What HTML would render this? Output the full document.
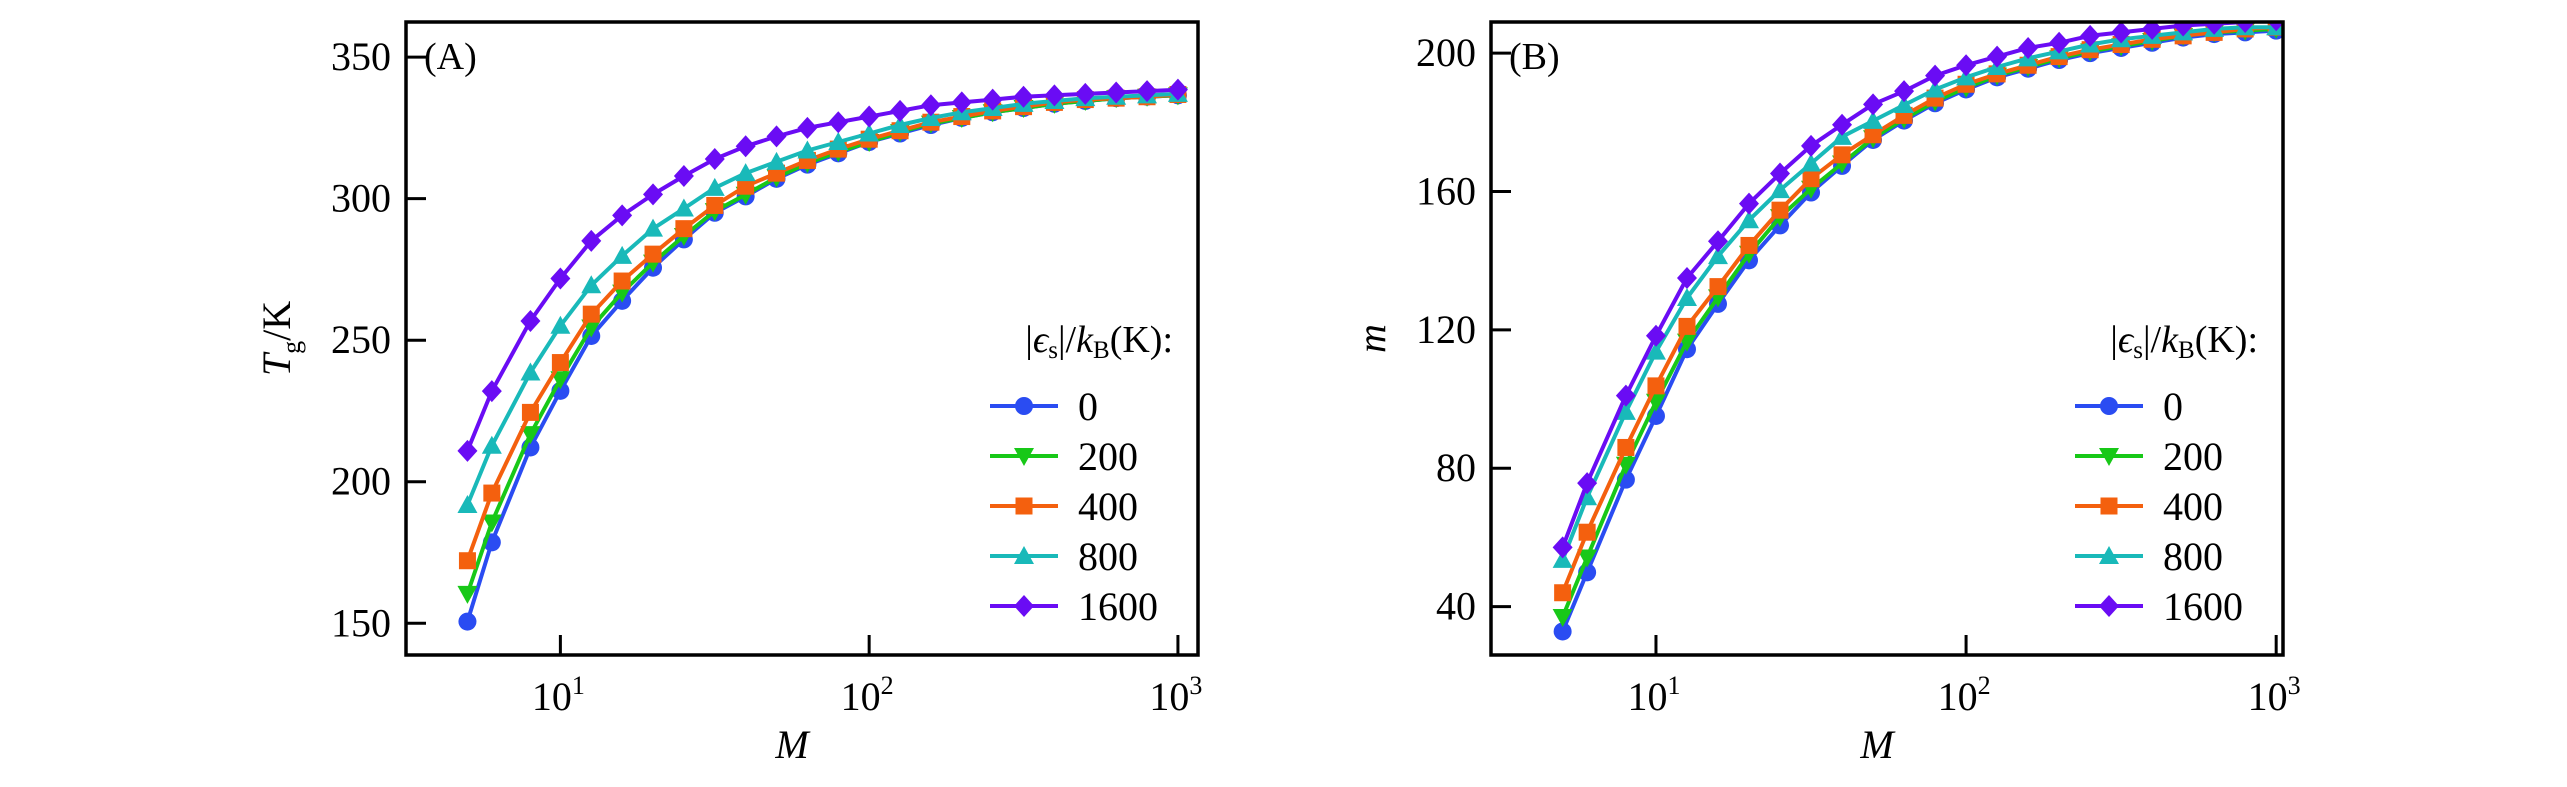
<!DOCTYPE html>
<html><head><meta charset="utf-8">
<style>
html,body{margin:0;padding:0;background:#fff;}
svg{display:block;font-family:"Liberation Serif",serif;}
</style></head>
<body>
<svg id="fig" width="2567" height="787" viewBox="0 0 2567 787" xmlns="http://www.w3.org/2000/svg"></svg>
<script>
const logM = [0.699,0.778,0.903,1.0,1.1,1.2,1.3,1.4,1.5,1.6,1.7,1.8,1.9,2.0,2.1,2.2,2.3,2.4,2.5,2.6,2.7,2.8,2.9,3.0];
const seriesLabels = ["0","200","400","800","1600"];
const tgBlue   = [150.6,178.6,212.1,232.1,251.5,263.9,275.6,285.6,295,300.8,307,312,316,320,323,326,328.5,330.5,332,333.5,334.5,335.5,336,336.5];
const tgGreen  = [160.4,185.6,216.8,236.2,254.5,266.8,277.4,286.8,295.6,301.4,307.5,312.5,316.5,320,323.5,326.5,328.5,330.5,332,333.5,334.5,335.5,336,336.5];
const tgOrange = [172.1,196,224.5,242.1,259.2,270.9,280.4,289.4,297.6,304.4,309,313.5,317.5,321,324,327,329,331,332.5,334,335,335.5,336,336.8];
const tgCyan   = [191.8,212.7,238.6,255.1,269.4,279.8,289.4,296.5,303.8,309,313,317,320,323,326,328.5,330.5,332,333.5,334.5,335.5,336,336.5,337];
const tgPurple = [210.9,232,256.8,271.8,285.1,294.1,301.5,308,314,318.5,322,325,327,329,331,333,334,335,336,336.5,337,337.5,338,338.5];
const mBlue   = [32.8,49.9,76.7,95.1,114.4,127.5,140.1,150.2,159.7,167.4,174.9,180.5,185.5,189.5,193,195.5,198,200,201.5,203,204.5,205.5,206,206.5];
const mGreen  = [37,54.2,81,99.2,116.6,129.4,142,152.6,160.8,168.1,175.4,181,186,190,193.5,196,198.5,200.5,202,203.5,205,206,206.5,207];
const mOrange = [44,61.5,86,103.8,121,132.5,144.4,154.6,163.7,170.6,176.4,182,187,191,194,196.5,199,201,202.5,204,205,206,207,207.5];
const mCyan   = [53.5,71.6,96.3,113.7,129.2,141.3,151.7,160.4,168.1,175.8,180.4,185,189.5,193,196,198.5,200.5,202.5,204,205,206,207,207.5,207.5];
const mPurple = [57.1,75.7,101,118.3,135,145.6,156.5,165.2,173.2,179.3,185.2,189,193.5,196.5,199,201.5,203,205,206,207,208,208.5,209,209.5];
const tgTicks = [150,200,250,300,350];
const mTicks = [40,80,120,160,200];
const xTickExp = [1,2,3];

const NS="http://www.w3.org/2000/svg";
const svg=document.getElementById('fig');
const colors=["#2a4cf2","#18c818","#f4600e","#19b9b9","#6a0cf4"];
const markers=["circle","tridown","square","triup","diamond"];
function el(tag,attrs,parent){const e=document.createElementNS(NS,tag);for(const k in attrs)e.setAttribute(k,attrs[k]);(parent||svg).appendChild(e);return e;}
function marker(g,type,x,y,c){
  let e;
  if(type==="circle"){e=el('circle',{cx:x,cy:y,r:9,fill:c},g);}
  else if(type==="square"){e=el('rect',{x:x-8.5,y:y-8.5,width:17,height:17,fill:c},g);}
  else if(type==="tridown"){e=el('polygon',{points:`${x-10},${y-8} ${x+10},${y-8} ${x},${y+10}`,fill:c},g);}
  else if(type==="triup"){e=el('polygon',{points:`${x-10},${y+8} ${x+10},${y+8} ${x},${y-10}`,fill:c},g);}
  else {e=el('polygon',{points:`${x},${y-11} ${x+10},${y} ${x},${y+11} ${x-10},${y}`,fill:c},g);}
  
  
  return e;
}
function panel(cfg){
  const {L,R,T,B,xmin,xmax,ymin,ymax,yticks,series,letter,ylab,name,clipId}=cfg;
  const g=el('g',{});
  
  
  const sx=v=>L+(v-xmin)/(xmax-xmin)*(R-L);
  const sy=v=>B-(v-ymin)/(ymax-ymin)*(B-T);
  const defs=el('defs',{},g);
  const cp=el('clipPath',{id:clipId},defs);
  el('rect',{x:L,y:T,width:R-L,height:B-T},cp);
  const plot=el('g',{'clip-path':`url(#${clipId})`},g);
  
  
  series.forEach((s,i)=>{
    const sg=el('g',{},plot);
    
    
    const pts=logM.map((lx,j)=>sx(lx).toFixed(1)+','+sy(s[j]).toFixed(1)).join(' ');
    const pl=el('polyline',{points:pts,fill:'none',stroke:colors[i],'stroke-width':4,'stroke-linejoin':'round'},sg);
    
    
    logM.forEach((lx,j)=>marker(sg,markers[i],sx(lx),sy(s[j]),colors[i]));
  });
  yticks.forEach(v=>{
    const y=sy(v);
    const t=el('line',{x1:L,x2:L+20,y1:y,y2:y,stroke:'#000','stroke-width':3},g);
    
    
    const tx=el('text',{x:L-15,y:y+13,'text-anchor':'end','font-size':40},g);
    tx.textContent=v;
    
    
  });
  xTickExp.forEach(e=>{
    const x=sx(e);
    const t=el('line',{x1:x,x2:x,y1:B,y2:B-20,stroke:'#000','stroke-width':3},g);
    
    
    const tx=el('text',{x:x-2,y:B+55,'text-anchor':'middle','font-size':40},g);
    
    
    const a=el('tspan',{},tx);a.textContent='10';
    const b=el('tspan',{dy:-16,'font-size':26},tx);b.textContent=e;
  });
  const fr=el('rect',{x:L,y:T,width:R-L,height:B-T,fill:'none',stroke:'#000','stroke-width':3.5},g);
  
  
  const pl=el('text',{x:L+18,y:T+47,'font-size':38},g);
  pl.textContent=letter;
  
  
  const xl=el('text',{x:(L+R)/2-10,y:B+103,'text-anchor':'middle','font-size':40,'font-style':'italic'},g);
  xl.textContent='M';
  
  
  const yl=el('text',{transform:`translate(${cfg.ylx},${(T+B)/2}) rotate(-90)`,'text-anchor':'middle','font-size':40},g);
  
  
  if(ylab==='Tg'){
    const a=el('tspan',{'font-style':'italic'},yl);a.textContent='T';
    const b=el('tspan',{dy:10,'font-size':26},yl);b.textContent='g';
    const c=el('tspan',{dy:-10},yl);c.textContent='/K';
  } else {
    const a=el('tspan',{'font-style':'italic'},yl);a.textContent='m';
  }
  const lg=el('g',{},g);
  
  
  const lt=el('text',{x:R-25,y:352,'text-anchor':'end','font-size':38},lg);
  
  
  const p1=el('tspan',{},lt);p1.textContent='|';
  const p2=el('tspan',{'font-style':'italic'},lt);p2.textContent='ϵ';
  const p3=el('tspan',{dy:6,'font-size':25},lt);p3.textContent='s';
  const p4=el('tspan',{dy:-6},lt);p4.textContent='|/';
  const p5=el('tspan',{'font-style':'italic'},lt);p5.textContent='k';
  const p6=el('tspan',{dy:6,'font-size':25},lt);p6.textContent='B';
  const p7=el('tspan',{dy:-6},lt);p7.textContent='(K):';
  seriesLabels.forEach((s,i)=>{
    const y=406+i*50;
    const lx=R-208;
    const eg=el('g',{},lg);
    
    
    el('line',{x1:lx,x2:lx+68,y1:y,y2:y,stroke:colors[i],'stroke-width':4},eg);
    marker(eg,markers[i],lx+34,y,colors[i]);
    const t=el('text',{x:lx+88,y:y+14,'font-size':40},eg);
    t.textContent=s;
  });
}
panel({L:406,R:1198,T:22,B:655,xmin:0.5,xmax:3.065,ymin:138.8,ymax:362.4,yticks:tgTicks,
  series:[tgBlue,tgGreen,tgOrange,tgCyan,tgPurple],letter:'(A)',ylab:'Tg',name:'panel-a-tg',clipId:'ca',ylx:290});
panel({L:1491,R:2283,T:22,B:655,xmin:0.468,xmax:3.022,ymin:26,ymax:209,yticks:mTicks,
  series:[mBlue,mGreen,mOrange,mCyan,mPurple],letter:'(B)',ylab:'m',name:'panel-b-m',clipId:'cb',ylx:1385});
</script>
</body></html>
